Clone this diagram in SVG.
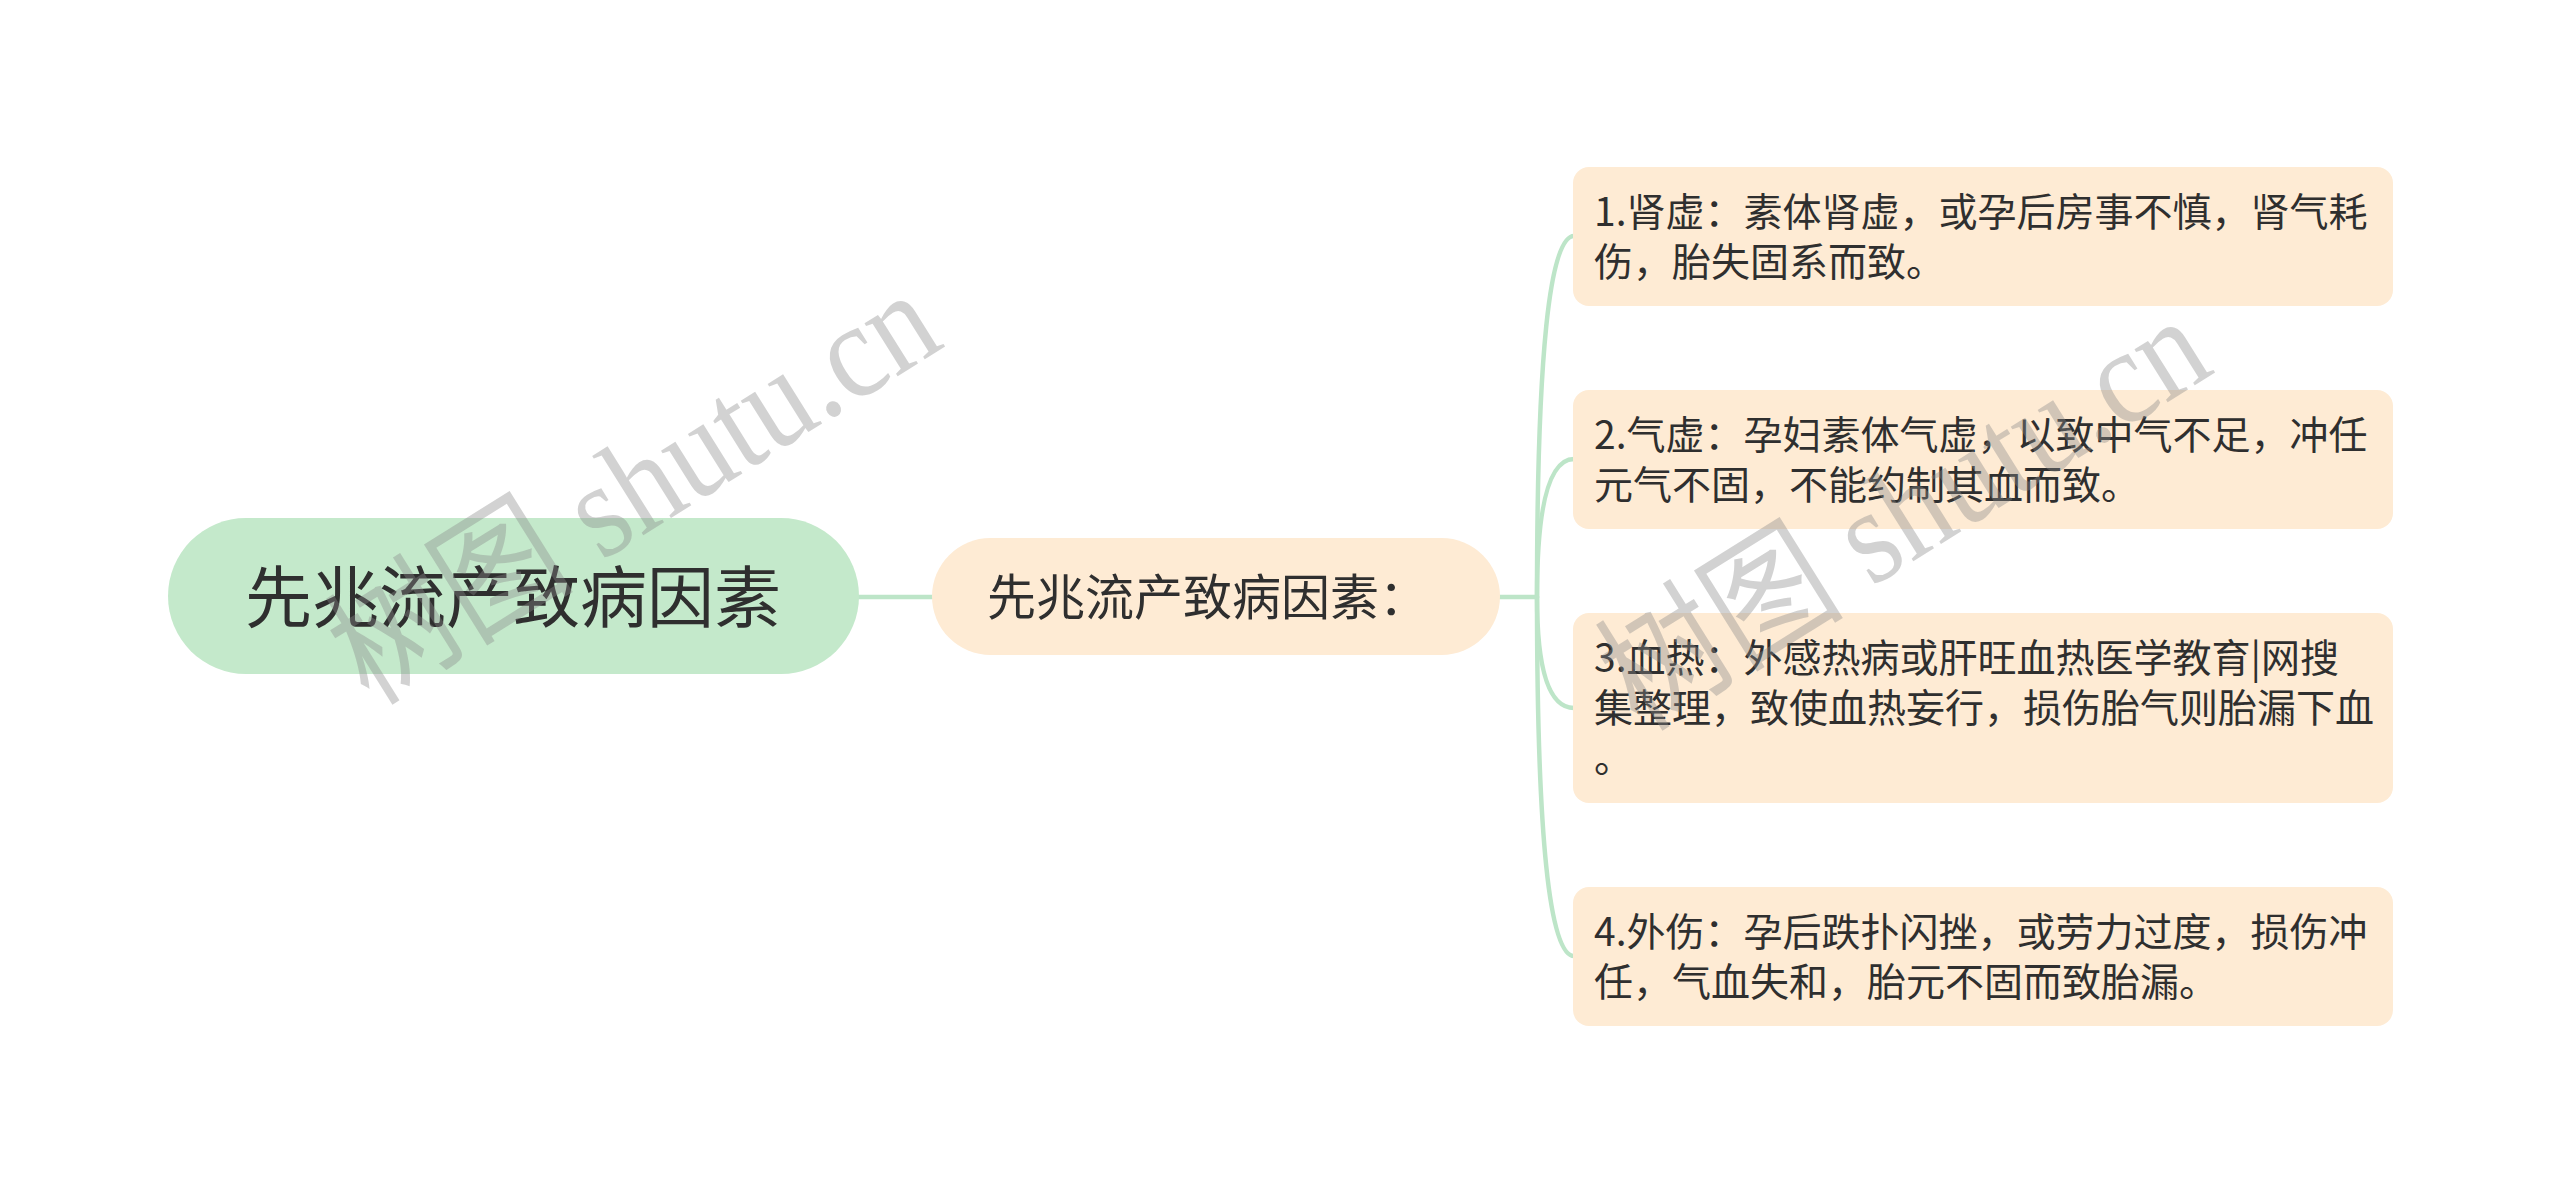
<svg xmlns="http://www.w3.org/2000/svg" width="2560" height="1193" viewBox="0 0 2560 1193">
<style>
.cjk{font-family:"Noto Sans CJK SC","Noto Sans",sans-serif;fill:#2f2f2f}
.root{fill:#c4e9cb}
.beige{fill:#feebd4}
.conn{fill:none;stroke:#bde5c8;stroke-width:4.5;stroke-linecap:round}
.leaf{font-size:39px}
.wm{font-family:"Liberation Serif","Noto Sans CJK SC",serif;font-size:136px;fill:#8a8a8a;fill-opacity:0.38}
</style>
<rect width="2560" height="1193" fill="#ffffff"/>
<g id="connectors">
<path class="conn" d="M858 597 H933"/>
<path class="conn" d="M1499 597 H1537"/>
<path class="conn" d="M1537 597 Q1537 236 1574 236"/>
<path class="conn" d="M1537 597 Q1537 459 1574 459"/>
<path class="conn" d="M1537 597 Q1537 708 1574 708"/>
<path class="conn" d="M1537 597 Q1537 956 1574 956"/>
</g>
<g id="node-root">
<rect class="root" x="168" y="518" width="691" height="156" rx="78"/>
<text class="cjk" x="513" y="622" font-size="67" text-anchor="middle">先兆流产致病因素</text>
</g>
<g id="node-main">
<rect class="beige" x="932" y="538" width="568" height="117" rx="58.5"/>
<text class="cjk" x="987" y="615" font-size="49">先兆流产致病因素：</text>
</g>
<g id="node-1">
<rect class="beige" x="1573" y="167" width="820" height="139" rx="16"/>
<text class="cjk leaf" x="1594" y="226">1.肾虚：素体肾虚，或孕后房事不慎，肾气耗</text>
<text class="cjk leaf" x="1594" y="276">伤，胎失固系而致。</text>
</g>
<g id="node-2">
<rect class="beige" x="1573" y="390" width="820" height="139" rx="16"/>
<text class="cjk leaf" x="1594" y="449">2.气虚：孕妇素体气虚，以致中气不足，冲任</text>
<text class="cjk leaf" x="1594" y="499">元气不固，不能约制其血而致。</text>
</g>
<g id="node-3">
<rect class="beige" x="1573" y="613" width="820" height="190" rx="16"/>
<text class="cjk leaf" x="1594" y="672">3.血热：外感热病或肝旺血热医学教育|网搜</text>
<text class="cjk leaf" x="1594" y="722">集整理，致使血热妄行，损伤胎气则胎漏下血</text>
<text class="cjk leaf" x="1594" y="772">。</text>
</g>
<g id="node-4">
<rect class="beige" x="1573" y="887" width="820" height="139" rx="16"/>
<text class="cjk leaf" x="1594" y="946">4.外伤：孕后跌扑闪挫，或劳力过度，损伤冲</text>
<text class="cjk leaf" x="1594" y="996">任，气血失和，胎元不固而致胎漏。</text>
</g>
<g id="watermarks">
<text class="wm" transform="translate(370 706) rotate(-32)" textLength="680" lengthAdjust="spacingAndGlyphs">树图 shutu.cn</text>
<text class="wm" transform="translate(1640 732) rotate(-32)" textLength="680" lengthAdjust="spacingAndGlyphs">树图 shutu.cn</text>
</g>
</svg>
